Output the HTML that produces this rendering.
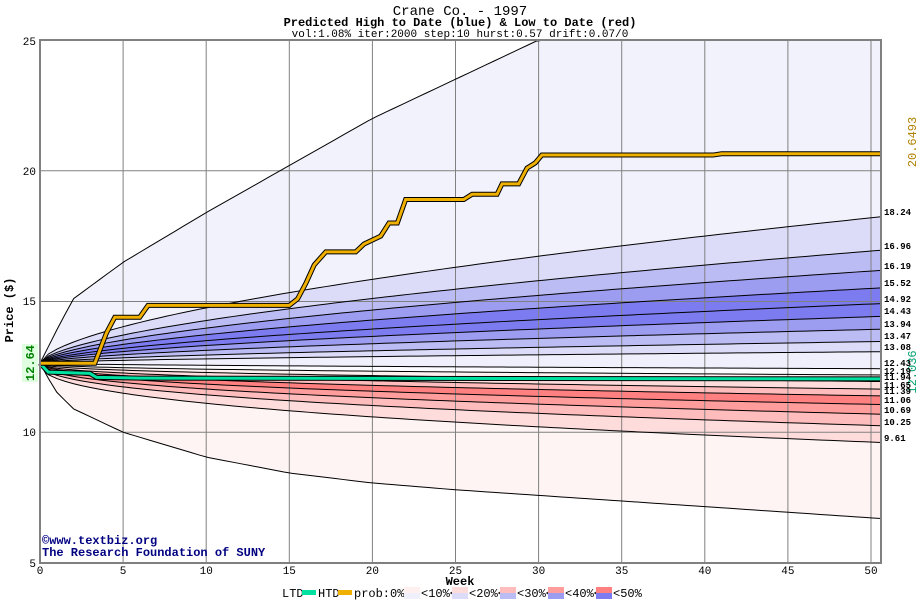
<!DOCTYPE html>
<html><head><meta charset="utf-8"><style>
html,body{margin:0;padding:0;background:#fff;}
svg{display:block;font-family:"Liberation Mono","DejaVu Sans Mono",monospace;}
</style></head><body>
<svg id="s" width="920" height="600" xmlns="http://www.w3.org/2000/svg">
<rect x="0" y="0" width="920" height="600" fill="#fff"/>
<g id="bands"></g>
<g id="grid" stroke="#808080" stroke-width="1"></g>
<g id="lines" fill="none" stroke="#000" stroke-width="1"></g>
<g id="series"></g>
<rect x="40" y="40" width="841" height="523" fill="none" stroke="#808080" stroke-width="2"/>
<text x="460" y="15" font-size="14" text-anchor="middle">Crane Co. - 1997</text>
<text x="460" y="26" font-size="12" font-weight="bold" text-anchor="middle">Predicted High to Date (blue) &amp;  Low to Date (red)</text>
<text x="460" y="37" font-size="11" text-anchor="middle">vol:1.08% iter:2000 step:10 hurst:0.57 drift:0.07/0</text>
<g font-size="11" text-anchor="end">
<text x="36" y="45">25</text><text x="36" y="175">20</text><text x="36" y="305">15</text><text x="36" y="436">10</text><text x="36" y="567">5</text>
</g>
<g font-size="11" text-anchor="middle" id="xt"></g>
<text x="460" y="585" font-size="12" font-weight="bold" text-anchor="middle">Week</text>
<text transform="translate(13,310) rotate(-90)" font-size="12" font-weight="bold" text-anchor="middle">Price ($)</text>
<rect x="22" y="344" width="16" height="38" fill="#e0ffe0"/>
<text transform="translate(34,363) rotate(-90)" font-size="12" font-weight="bold" fill="#008000" text-anchor="middle">12.64</text>
<text transform="translate(916,142) rotate(-90)" font-size="12" fill="#b08000" text-anchor="middle">20.6493</text>
<text transform="translate(916,372) rotate(-90)" font-size="12" fill="#00a070" text-anchor="middle">12.036</text>
<g font-size="9" font-weight="bold" id="rl"></g>
<text x="42" y="544" font-size="12" font-weight="bold" fill="#000080">©www.textbiz.org</text>
<text x="42" y="556" font-size="12" font-weight="bold" fill="#000080">The Research Foundation of SUNY</text>
<g font-size="12">
<text x="282" y="597">LTD</text><rect x="302" y="590" width="14" height="5" fill="#00e0a0"/>
<text x="318" y="597">HTD</text><rect x="338" y="590" width="14" height="5" fill="#f0b000"/>
<text x="354" y="597">prob:0%&lt;</text>
<rect x="404" y="587" width="16" height="6" fill="#fff0f0"/><rect x="404" y="593" width="16" height="6" fill="#f0f0fc"/>
<text x="421" y="597">&lt;10%&lt;</text>
<rect x="452" y="587" width="16" height="6" fill="#ffdcdc"/><rect x="452" y="593" width="16" height="6" fill="#dcdcf8"/>
<text x="469" y="597">&lt;20%&lt;</text>
<rect x="500" y="587" width="16" height="6" fill="#ffbcbc"/><rect x="500" y="593" width="16" height="6" fill="#bcbcf4"/>
<text x="517" y="597">&lt;30%&lt;</text>
<rect x="548" y="587" width="16" height="6" fill="#ff9c9c"/><rect x="548" y="593" width="16" height="6" fill="#9c9cf0"/>
<text x="565" y="597">&lt;40%&lt;</text>
<rect x="596" y="587" width="16" height="6" fill="#ff8080"/><rect x="596" y="593" width="16" height="6" fill="#7c7cf0"/>
<text x="613" y="597">&lt;50%</text>
</g>
</svg>
<script>
var NS="http://www.w3.org/2000/svg";
function X(w){return 40+w*16.62;}
function Y(p){return 563-(p-5)*26.15;}
function el(par,tag,attrs){var e=document.createElementNS(NS,tag);for(var k in attrs)e.setAttribute(k,attrs[k]);document.getElementById(par).appendChild(e);return e;}
var T=50.6,P0=12.64;
function curve(f,h){var pts=[];for(var i=0;i<=100;i++){var t=T*i/100;var p=P0+(f-P0)*Math.pow(t/T,h);pts.push([X(t),Math.max(Y(p),40)]);}return pts;}
function pw(k){var pts=[];for(var i=0;i<=100;i++){var t=T*i/100;var j=0;while(j<k.length-2&&t>k[j+1][0])j++;var a=k[j],b=k[j+1];var p=a[1]+(b[1]-a[1])*(t-a[0])/(b[0]-a[0]);pts.push([X(t),Math.max(Y(p),40)]);}return pts;}
var finals=[0,18.24,16.96,16.19,15.52,14.92,14.43,13.94,13.47,13.08,12.43,12.19,11.94,11.65,11.39,11.06,10.69,10.25,9.61,0];
var cs=finals.map(function(f,i){
 if(i==0)return pw([[0,12.64],[1,13.9],[2,15.1],[5,16.5],[10,18.4],[20,22],[30,25],[50.6,30]]);
 if(i==19)return pw([[0,12.64],[0.9,11.6],[2,10.9],[5,10.0],[10,9.05],[15,8.44],[20,8.06],[25,7.8],[50.6,6.7]]);
 return curve(f,i<=10?0.6:0.42);});
var fills=["#f2f2fc","#dcdcf8","#bcbcf4","#9c9cf0","#7c7cf0","#7c7cf0","#9c9cf0","#bcbcf4","#dcdcf8","#f0f0fc","#fafaff","#fff0f0","#ffdcdc","#ffbcbc","#ff8080","#ff9c9c","#ffbcbc","#ffdcdc","#fff4f4"];
el("bands","rect",{x:40,y:40,width:841,height:523,fill:"#fff"});
for(var i=0;i<fills.length;i++){var a=cs[i],b=cs[i+1].slice().reverse();var d="M"+a.map(function(p){return p[0]+","+p[1];}).join(" L")+" L"+b.map(function(p){return p[0]+","+p[1];}).join(" L")+"Z";el("bands","path",{d:d,fill:fills[i]});}
for(var w=5;w<=50;w+=5){el("grid","line",{x1:X(w),y1:40,x2:X(w),y2:563});}
[10,15,20].forEach(function(p){el("grid","line",{x1:40,y1:Y(p),x2:881,y2:Y(p)});});
for(var w=0;w<=50;w+=5){var t=el("xt","text",{x:X(w),y:574});t.textContent=w;}
cs.forEach(function(c,i){el("lines","polyline",{points:c.map(function(p){return p[0]+","+p[1];}).join(" ")});});
var labs=[[18.24,215],[16.96,249],[16.19,269],[15.52,286],[14.92,302],[14.43,314],[13.94,327],[13.47,339],[13.08,350],[12.43,366],[12.19,374],[11.94,380],[11.65,388],[11.39,394],[11.06,403],[10.69,413],[10.25,425],[9.61,441]];
labs.forEach(function(l){var t=el("rl","text",{x:884,y:l[1]});t.textContent=l[0].toFixed(2);});
var htd=[[0,12.64],[3.3,12.64],[4,13.8],[4.5,14.4],[6,14.4],[6.5,14.85],[15,14.85],[15.5,15.1],[16,15.7],[16.5,16.4],[17.2,16.9],[19,16.9],[19.5,17.2],[20.5,17.5],[21,18],[21.5,18],[22,18.9],[25.5,18.9],[26,19.1],[27.5,19.1],[27.8,19.5],[28.8,19.5],[29.3,20.1],[29.8,20.3],[30.2,20.6],[40.5,20.6],[41,20.65],[50.6,20.65]];
var ltd=[[0,12.64],[0.5,12.3],[3,12.25],[3.4,12.1],[6,12.07],[50.6,12.04]];
function pl(a){return a.map(function(p){return X(p[0])+","+Y(p[1]);}).join(" ");}
el("series","polyline",{points:pl(ltd),fill:"none",stroke:"#000","stroke-width":5});
el("series","polyline",{points:pl(ltd),fill:"none",stroke:"#00e0a0","stroke-width":3});
el("series","polyline",{points:pl(htd),fill:"none",stroke:"#000","stroke-width":5});
el("series","polyline",{points:pl(htd),fill:"none",stroke:"#f0b000","stroke-width":3});
</script>
</body></html>
